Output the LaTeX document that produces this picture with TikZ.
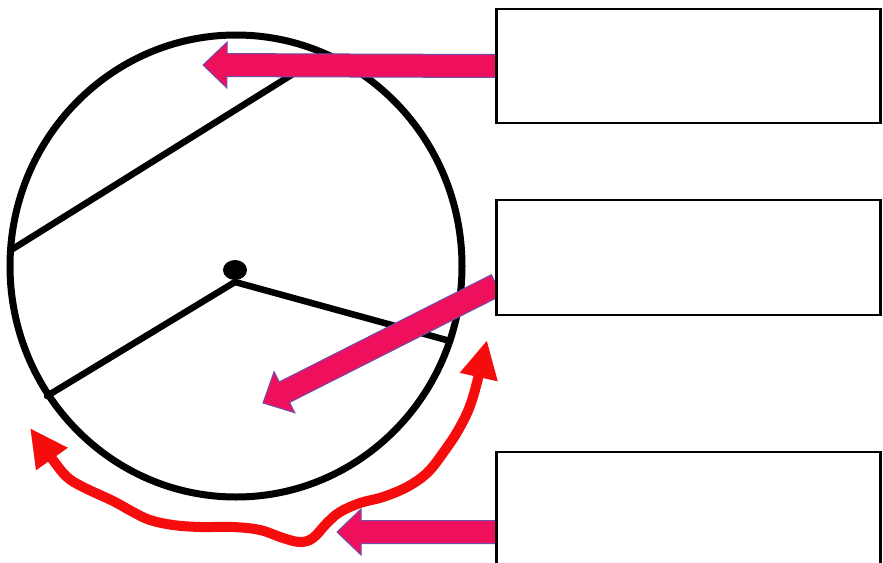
\documentclass[tikz,border=0pt]{standalone}
\usetikzlibrary{calc,arrows.meta}
\definecolor{pinkc}{RGB}{238,16,92}
\definecolor{edgec}{RGB}{110,80,170}
\definecolor{redc}{RGB}{245,12,12}
\tikzset{
  box/.style={draw=black, line width=2.5pt, fill=white, minimum width=384pt, inner sep=0pt, outer sep=0pt},
  rim/.style={draw=black, line width=7pt},
  spoke/.style={draw=black, line width=6.5pt, line cap=round, line join=round},
  pinkshape/.style={fill=pinkc, draw=edgec, line width=1pt, line join=miter},
  curlarrow/.style={draw=redc, line width=10pt, line join=round,
    {Triangle[length=38pt,width=36pt]}-{Triangle[length=38pt,width=36pt]}}
}
\newcommand\pinkarrow[2]{%
  \coordinate (fab) at ($(#2)!24pt!(#1)$);
  \path[pinkshape] ($(#1)!11.5pt!90:(#2)$) -- ($(fab)!11.5pt!90:(#2)$) -- ($(fab)!23pt!90:(#2)$)
    -- (#2) -- ($(fab)!23pt!-90:(#2)$) -- ($(fab)!11.5pt!-90:(#2)$) -- ($(#1)!11.5pt!-90:(#2)$) -- cycle;}
\begin{document}
\begin{tikzpicture}[x=1pt,y=-1pt]
\useasboundingbox (0,0) rectangle (883,562);
\clip (0,0) rectangle (883,562);
% wheel
\coordinate (c) at (236,266);
\draw[rim] (c) ellipse [x radius=226pt, y radius=231pt];
\coordinate (hub) at (235,282);
\coordinate (chA) at (11,250);
\coordinate (chB) at (325,54);
\coordinate (spL) at (47,396);
\coordinate (spR) at (450,341);
\draw[spoke] (chA) -- (chB);
\draw[spoke] (spL) -- (hub) -- (spR);
\coordinate (dot) at (235,270);
\fill[black] (dot) ellipse [x radius=12pt, y radius=10pt];
% red curved arrow
\draw[curlarrow] plot[smooth, tension=0.6] coordinates {
  (30,428) (53,460) (67,477) (83,487) (113,501) (133,512) (150,520) (173,525)
  (200,527) (233,527) (260,530) (283,538) (300,542) (313,538) (327,523) (340,512)
  (360,503) (383,497) (407,487) (427,473) (443,453) (460,427) (473,397) (487,340)};
% boxes (positions)
\node[box, minimum height=114pt] (b1) at (688.5,66) {};
\node[box, minimum height=115pt] (b2) at (688.5,257.5) {};
\node[box, minimum height=124pt] (b3) at (688.5,514) {};
% pink arrows
\coordinate (t1) at (203,65);
\coordinate (s2) at ($(b2.south west)+(0,-30)$);
\coordinate (t2) at (263,403);
\coordinate (s3) at ($(b3.north west)+(0,80)$);
\coordinate (t3) at (337,532);
\pinkarrow{b1.west}{t1}
\pinkarrow{s2}{t2}
\pinkarrow{s3}{t3}
% redraw boxes on top to cover arrow ends
\node[box, minimum height=114pt] at (b1) {};
\node[box, minimum height=115pt] at (b2) {};
\node[box, minimum height=124pt] at (b3) {};
\end{tikzpicture}
\end{document}
